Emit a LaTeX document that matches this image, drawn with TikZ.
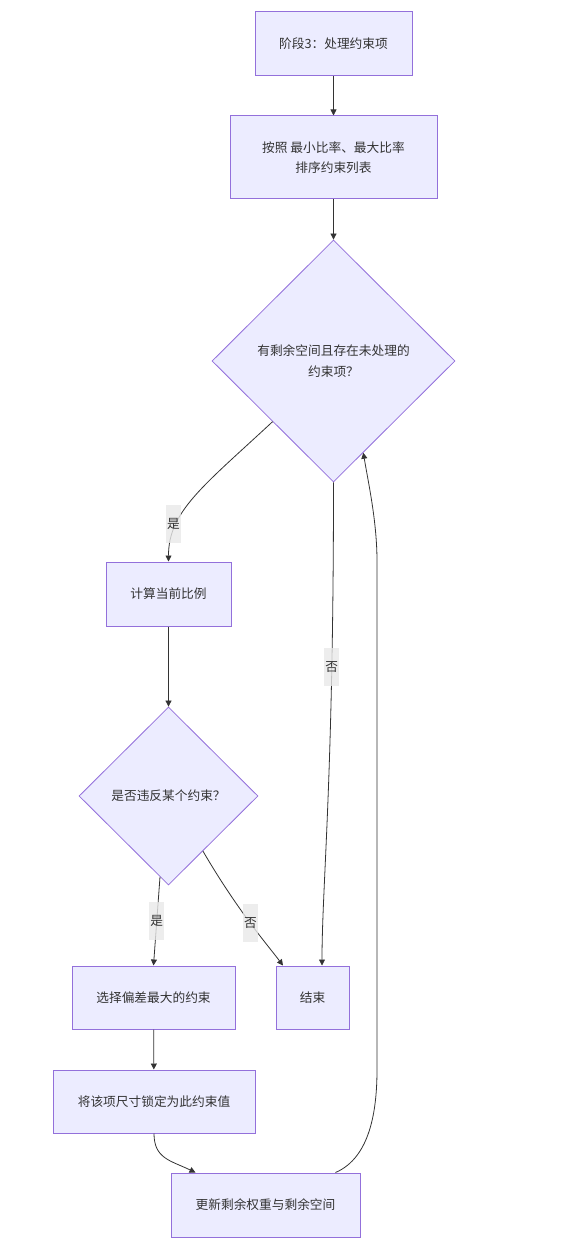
\documentclass[tikz,border=0pt]{standalone}
\usepackage{fontspec}
\setmainfont{Noto Sans CJK SC}
\definecolor{fcfill}{HTML}{ECECFF}
\definecolor{fcline}{HTML}{9370DB}
\definecolor{fctext}{HTML}{333333}
\definecolor{fclabel}{HTML}{E8E8E8}
\usetikzlibrary{arrows.meta,shapes.geometric}

\tikzset{
  box/.style={draw=fcline, fill=fcfill, line width=1pt, text=fctext, align=center, inner sep=0pt},
  decision/.style={diamond, draw=fcline, fill=fcfill, line width=0.8pt, text=fctext, align=center, inner sep=0pt},
  flow/.style={draw=fctext, line width=0.8pt, -{Triangle[length=6pt,width=6pt]}},
  lbl/.style={fill=fclabel, fill opacity=0.8, text opacity=1, text=fctext, inner xsep=1pt, inner ysep=0pt, minimum height=38pt},
}

\begin{document}
\begin{tikzpicture}[x=1pt,y=-1pt,font=\fontsize{12.7}{20.5}\selectfont]
    \useasboundingbox (0,0) rectangle (562,1246);

    % Stage header and sorting
    \node[box, minimum width=157pt, minimum height=64pt] (stage) at (333.5,44) {阶段3：处理约束项};
    \node[box, minimum width=207pt, minimum height=83pt] (sortlist) at (333.5,157.5) {按照 最小比率、最大比率\\排序约束列表};

    % Main loop test
    \node[decision, minimum width=243pt, minimum height=242pt] (hasspace) at (333.5,361) {有剩余空间且存在未处理的\\约束项？};
    \node[box, minimum width=125pt, minimum height=64pt] (calcratio) at (168.5,594) {计算当前比例};
    \node[decision, minimum width=179pt, minimum height=178pt] (violate) at (168.5,796) {是否违反某个约束？};

    % Branches
    \node[box, minimum width=163pt, minimum height=63pt] (pickmax) at (153.5,997.5) {选择偏差最大的约束};
    \node[box, minimum width=73pt, minimum height=63pt] (finish) at (312.5,997.5) {结束};
    \node[box, minimum width=202pt, minimum height=63pt] (lockval) at (154,1101.5) {将该项尺寸锁定为此约束值};
    \node[box, minimum width=189pt, minimum height=64pt] (update) at (265.5,1205) {更新剩余权重与剩余空间};

    \coordinate (backlane) at (377,800);

    % Connectors
    \draw[flow] (stage) -- (sortlist);
    \draw[flow] (sortlist) -- (hasspace);
    \draw[flow] (hasspace.south west) .. controls +(-70,65) and +(0,-50) .. (calcratio.north)
        node[lbl, pos=0.72, xshift=-3pt] (yesone) {是};
    \draw[flow] (hasspace.south) .. controls +(0,300) and +(0,-80) .. ([xshift=9.5pt]finish.north)
        node[lbl, pos=0.24] (noone) {否};
    \draw[flow] (calcratio) -- (violate);
    \draw[flow] (violate.264) -- (pickmax.north)
        node[lbl, midway] (yestwo) {是};
    \draw[flow] (violate.302) .. controls +(35,60) and +(-15,-20) .. ([xshift=-29.5pt]finish.north)
        node[lbl, pos=0.5] (notwo) {否};
    \draw[flow] (pickmax) -- (lockval);
    \draw[flow] (lockval.south) .. controls +(0,25) and +(-25,-12) .. ([xshift=25pt]update.north west);
    \draw[flow] ([xshift=-25pt]update.north east) .. controls +(35,-15) and +(0,40) .. (backlane |- lockval.north)
        -- (backlane |- calcratio.north) .. controls +(0,-40) and +(5,30) .. (hasspace.288);
\end{tikzpicture}
\end{document}
